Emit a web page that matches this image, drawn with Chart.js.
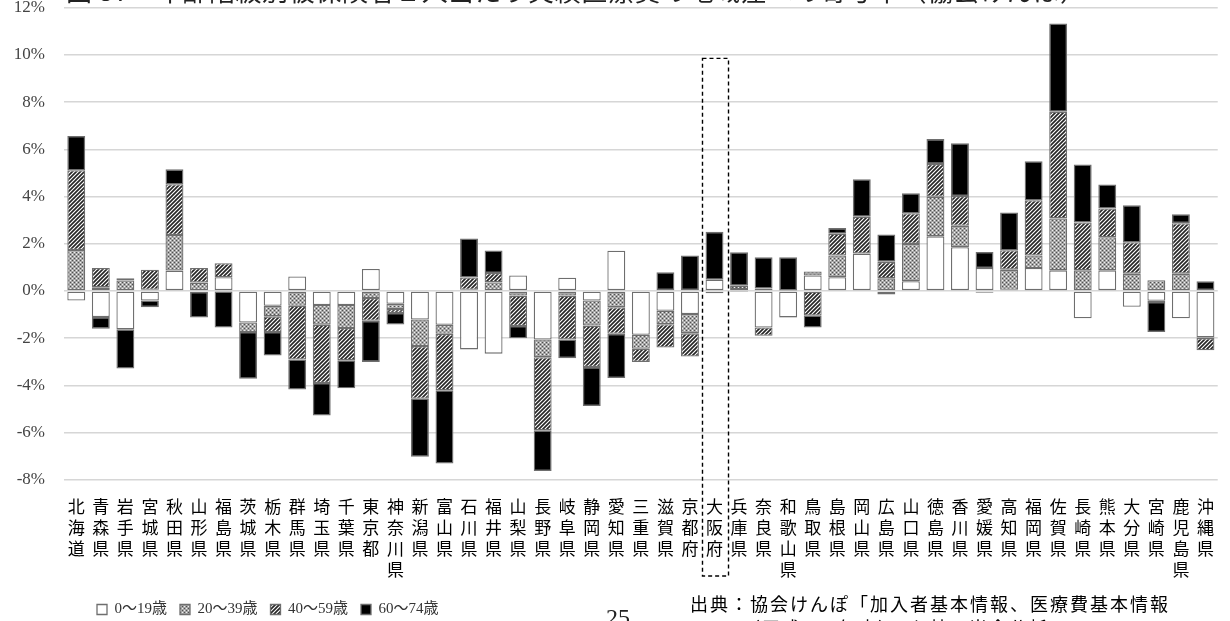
<!DOCTYPE html>
<html lang="ja">
<head>
<meta charset="utf-8">
<script src="https://cdn.jsdelivr.net/npm/chart.js@4.4.1/dist/chart.umd.min.js"></script>
<style>
  html, body { margin: 0; padding: 0; background: #fff; }
  #wrap { position: relative; width: 1230px; height: 621px; overflow: hidden; }
  #chart { position: absolute; left: 0; top: 0; }
  .title { position: absolute; left: 66px; top: -23px; font-size: 26px; line-height: 26px;
           font-family: 'Noto Sans CJK JP', sans-serif; color: #222; white-space: nowrap; letter-spacing: 0.6px; }
  .src   { position: absolute; left: 690px; top: 591px; font-size: 18px; line-height: 24px;
           font-family: 'Noto Sans CJK JP', sans-serif; color: #000; white-space: nowrap; letter-spacing: 2px; }
  .src .l2 { padding-left: 52px; }
  .page  { position: absolute; left: 606px; top: 604px; font-size: 24px; font-family: 'Liberation Serif', serif; color: #222; }
</style>
</head>
<body>
<div id="wrap">
  <canvas id="chart" width="1230" height="621"></canvas>
  <div class="title">図 37　年齢階級別被保険者１人当たり実績医療費の地域差への寄与率（協会けんぽ）</div>
  <div class="page">25</div>
  <div class="src">出典：協会けんぽ「加入者基本情報、医療費基本情報<br><span class="l2">（平成 30 年度）」を基に当会分析</span></div>
</div>
<script>
// ── data (contribution to regional difference, %) ─────────────────────────
const prefectures = [
  '北海道','青森県','岩手県','宮城県','秋田県','山形県','福島県','茨城県','栃木県','群馬県',
  '埼玉県','千葉県','東京都','神奈川県','新潟県','富山県','石川県','福井県','山梨県','長野県',
  '岐阜県','静岡県','愛知県','三重県','滋賀県','京都府','大阪府','兵庫県','奈良県','和歌山県',
  '鳥取県','島根県','岡山県','広島県','山口県','徳島県','香川県','愛媛県','高知県','福岡県',
  '佐賀県','長崎県','熊本県','大分県','宮崎県','鹿児島県','沖縄県'
];
const seriesNames = ['0～19歳', '20～39歳', '40～59歳', '60～74歳'];

const age0to19 = [
  -0.41, -1.11, -1.63, -0.41, 0.86, -0.05, 0.58, -1.34, -0.63, 0.61,
  -0.60, -0.60, 0.93, -0.55, -1.21, -1.44, -2.48, -2.66, 0.65, -2.06,
  0.56, -0.41, 1.70, -1.86, -0.84, -0.98, 0.47, -0.02, -1.55, -1.12,
  0.65, 0.58, 1.58, -0.15, 0.41, 2.31, 1.85, 0.97, 0.05, 0.97,
  0.87, -1.16, 0.87, -0.67, -0.42, -1.16, -1.97
];
const age20to39 = [
  1.73, 0.15, 0.44, 0.05, 1.51, 0.35, -0.03, -0.40, -0.45, -0.63,
  -0.83, -0.97, -0.30, -0.22, -1.13, -0.38, 0.05, 0.36, -0.20, -0.75,
  -0.20, -1.06, -0.69, -0.59, -0.57, -0.82, -0.05, 0.08, 0.10, -0.02,
  0.17, 0.92, 0.00, 0.53, 1.58, 1.68, 0.91, -0.04, 0.85, 0.53,
  2.20, 0.87, 1.40, 0.73, 0.45, 0.73, -0.03
];
const age40to59 = [
  3.38, 0.82, 0.10, 0.85, 2.15, 0.62, 0.59, 0.00, -0.66, -2.28,
  -2.47, -1.37, -0.97, -0.17, -2.23, -2.39, 0.52, 0.40, -1.29, -3.10,
  -1.86, -1.76, -1.13, -0.56, -0.99, -0.98, -0.05, 0.14, -0.35, 0.02,
  -1.05, 0.92, 1.56, 0.70, 1.30, 1.39, 1.26, -0.04, 0.82, 2.34,
  4.52, 2.03, 1.22, 1.33, -0.05, 2.14, -0.52
];
const age60to74 = [
  1.45, -0.49, -1.66, -0.28, 0.63, -1.08, -1.52, -1.98, -1.00, -1.27,
  -1.38, -1.19, -1.74, -0.48, -2.46, -3.10, 1.65, 0.95, -0.52, -1.72,
  -0.79, -1.65, -1.87, 0.00, 0.79, 1.50, 2.03, 1.42, 1.33, 1.41,
  -0.50, 0.24, 1.59, 1.16, 0.85, 1.05, 2.24, 0.68, 1.60, 1.65,
  3.74, 2.45, 1.02, 1.57, -1.27, 0.38, 0.41
];
const yMin = -8, yMax = 12, yStep = 2;

// ── fill patterns, like the Excel hatches ─────────────────────────────────
function makePattern(kind) {
  const c = document.createElement('canvas');
  const g = c.getContext('2d');
  c.width = c.height = 4;
  if (kind === 'grid') {
    // speckled lattice (20-39)
    g.fillStyle = '#a6a6a6';
    g.fillRect(0, 0, 4, 4);
    g.fillStyle = '#505050';
    g.fillRect(0, 0, 1, 1); g.fillRect(2, 2, 1, 1);
    g.fillStyle = '#f0f0f0';
    g.fillRect(2, 0, 1, 1); g.fillRect(0, 2, 1, 1);
  } else {
    // upward diagonal (40-59)
    g.fillStyle = '#ffffff';
    g.fillRect(0, 0, 4, 4);
    g.strokeStyle = '#262626';
    g.lineWidth = 1.7;
    g.beginPath();
    g.moveTo(0, 4); g.lineTo(4, 0);
    g.moveTo(-1, 1); g.lineTo(1, -1);
    g.moveTo(3, 5); g.lineTo(5, 3);
    g.stroke();
  }
  return g.createPattern(c, 'repeat');
}

const fills = ['#ffffff', makePattern('grid'), makePattern('diag'), '#000000'];
const values = [age0to19, age20to39, age40to59, age60to74];

// ── plugins ───────────────────────────────────────────────────────────────
// move the legend to where it sits in the report
const legendPlace = {
  id: 'legendPlace',
  afterLayout(chart) {
    const lg = chart.legend;
    const pad = lg.options.labels.padding;
    const dx = 97 - (lg.left + pad);
    const dy = 589 - lg.top;
    lg.left += dx; lg.right += dx;
    lg.top += dy; lg.bottom += dy;
  }
};

// dashed frame round Osaka
const osakaBox = {
  id: 'osakaBox',
  afterDraw(chart) {
    const { ctx, scales: { x, y } } = chart;
    const i = prefectures.indexOf('大阪府');
    const cx = x.getPixelForValue(i);
    const half = (x.getPixelForValue(1) - x.getPixelForValue(0)) * 0.53;
    const top = y.getPixelForValue(9.85);
    const bottom = x.bottom - 7;
    ctx.save();
    ctx.strokeStyle = '#000';
    ctx.lineWidth = 1.4;
    ctx.setLineDash([4, 3]);
    ctx.strokeRect(cx - half + 1, top, half * 2, bottom - top);
    ctx.restore();
  }
};

new Chart(document.getElementById('chart'), {
  type: 'bar',
  data: {
    labels: prefectures.map(p => Array.from(p)),
    datasets: seriesNames.map((name, k) => ({
      label: name,
      data: values[k],
      backgroundColor: fills[k],
      borderColor: '#6e6e6e',
      borderWidth: 1.3,
      borderSkipped: false,
      barPercentage: 0.73,
      categoryPercentage: 1.0
    }))
  },
  options: {
    responsive: false,
    animation: false,
    layout: { padding: { left: 0, right: 5, top: 0, bottom: 0 } },
    scales: {
      x: {
        stacked: true,
        grid: { display: false, drawTicks: false },
        border: { display: false },
        ticks: {
          autoSkip: false, maxRotation: 0, padding: 16, color: '#000',
          font: { family: "'Noto Sans CJK JP', sans-serif", size: 17, lineHeight: 1.24 }
        },
        afterFit(s) { s.height = 103.3; }
      },
      y: {
        stacked: true,
        min: yMin, max: yMax,
        // invisible tick marks keep the labels clear of the plot without padding the top
        grid: { color: '#d6d6d6', lineWidth: 1.5, drawTicks: true, tickLength: 19, tickColor: 'rgba(0,0,0,0)' },
        border: { display: false },
        ticks: {
          stepSize: yStep, padding: 0, color: '#444',
          font: { family: "'Liberation Serif', serif", size: 17, lineHeight: 0.9 },
          callback: v => v + '%'
        },
        afterFit(s) { s.width = 64; }
      }
    },
    plugins: {
      legend: {
        position: 'bottom',
        align: 'start',
        labels: {
          boxWidth: 10, boxHeight: 10, padding: 13, color: '#333',
          font: { family: "'Liberation Serif', 'Noto Sans CJK JP', serif", size: 15 }
        }
      },
      tooltip: { enabled: false }
    }
  },
  plugins: [legendPlace, osakaBox]
});
</script>
</body>
</html>
